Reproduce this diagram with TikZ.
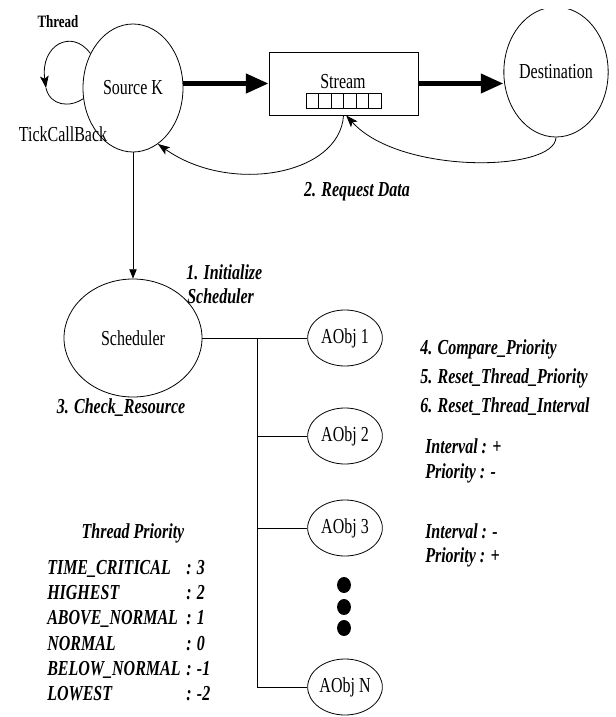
\documentclass[tikz,border=0pt]{standalone}
\usepackage{fontspec}
\setmainfont{Liberation Serif}[FakeStretch=0.75]
\usepackage{tikz}
\newcommand{\labelfont}{\fontsize{16pt}{19pt}\selectfont}
\newcommand{\aobjwidth}{56pt}
\newcommand{\aobjheight}{42pt}
\usetikzlibrary{arrows.meta,calc,shapes.geometric}
\tikzset{
  font=\labelfont,
  oval/.style={draw,shape=ellipse,inner sep=0,line width=0.6pt},
  aobj/.style={oval,minimum width=\aobjwidth,minimum height=\aobjheight},
  cell/.style={draw,shape=rectangle,minimum width=9.4pt,minimum height=11.25pt,inner sep=0,line width=0.6pt},
  note/.style={font=\labelfont\bfseries\itshape,inner sep=0},
  line/.style={draw,line width=0.6pt},
  arrow/.style={line,-{Triangle[length=7pt,width=5.5pt]}},
  back/.style={line,-{Stealth[length=9pt,width=6.5pt,inset=2pt]}},
  flow/.style={draw,line width=3.75pt,-{Triangle[length=17pt,width=14pt]}},
}

\begin{document}
\begin{tikzpicture}[x=0.75pt,y=-0.75pt]
  \useasboundingbox (0,0) rectangle (615,717);
  \node (src) [oval,minimum width=75pt,minimum height=96pt] at (133,88) {Source K};
  \node (stream) [draw,line width=0.6pt,minimum width=111.75pt,minimum height=47.25pt,inner sep=0] at (343.5,83.5) {};
  \node (streamlabel) [inner sep=0,anchor=base] at (343,89) {Stream};
  \foreach \i in {0,...,5}
    \node (cell\i) [cell] at (312.25+12.5*\i,100.5) {};
  \begin{scope}
    \clip (400,10) rectangle (615,200);
    \node (dest) [oval,minimum width=75pt,minimum height=97.5pt] at (556,72) {Destination};
  \end{scope}
  \path [flow] (src.east |- stream.west) -- (stream.west);
  \path [flow] (stream.east) -- (dest.west |- stream.east);

  \node (thread) [inner sep=0,anchor=base,font=\fontsize{13pt}{15pt}\selectfont\bfseries] at (58,28) {Thread};
  \coordinate (looptip) at (46,88);
  \path [back] (src.141) .. controls (72,28) and (40,45) .. (looptip);
  \path [line] (looptip) .. controls (50,106) and (70,108) .. (src.192);
  \node (tick) [inner sep=0,anchor=base] at (63,141.5) {TickCallBack};

  \path [back] (stream.south) .. controls (340,175) and (230,195) .. (src.-66);
  \path [back] (dest.south) .. controls (555,172) and (400,175) .. ([xshift=2pt]stream.south);
  \node (req) [note,anchor=base] at (357,196.5) {2. Request Data};

  \node (sched) [oval,minimum width=103.5pt,minimum height=88.5pt] at (133,338) {Scheduler};
  \path [arrow] (src.south) -- (sched.north);
  \node (init1) [note,anchor=base west] at (186,279.5) {1. Initialize};
  \node (init2) [note,anchor=base west] at (187,303.5) {Scheduler};
  \node (check) [note,anchor=base] at (121,413.5) {3. Check\_Resource};

  \node (aobj1) [aobj] at (345,338) {AObj 1};
  \node (aobj2) [aobj] at (345,436) {AObj 2};
  \node (aobj3) [aobj] at (345,528) {AObj 3};
  \node (aobjN) [aobj] at (345,687) {AObj N};
  \coordinate (bus) at (257,338);
  \path [line] (sched.east) -- (aobj1.west);
  \path [line] (bus) |- (aobjN.west);
  \path [line] (bus |- aobj2.west) -- (aobj2.west);
  \path [line] (bus |- aobj3.west) -- (aobj3.west);
  \foreach \y in {585,607,628}
    \fill (344,\y) ellipse [x radius=5.2pt,y radius=6pt];

  \node (cmp) [note,anchor=base west] at (420,354.5) {4. Compare\_Priority};
  \node (rtp) [note,anchor=base west] at (420,383.5) {5. Reset\_Thread\_Priority};
  \node (rti) [note,anchor=base west] at (420,412.5) {6. Reset\_Thread\_Interval};
  \node (intup) [note,anchor=base west] at (425,453.5) {Interval : +};
  \node (priodown) [note,anchor=base west] at (425,478.5) {Priority : -};
  \node (intdown) [note,anchor=base west] at (425,538.5) {Interval : -};
  \node (prioup) [note,anchor=base west] at (425,562.5) {Priority : +};

  \node (prio) [note,anchor=base] at (133,538.5) {Thread Priority};
  \foreach \name/\val [count=\i] in {TIME\_CRITICAL/3,HIGHEST/2,ABOVE\_NORMAL/1,NORMAL/0,BELOW\_NORMAL/-1,LOWEST/-2} {
    \node (level\i) [note,anchor=base west] at (47,549.3+25.2*\i) {\name};
    \node (value\i) [note,anchor=base west] at (186,549.3+25.2*\i) {: \val};
  }
\end{tikzpicture}
\end{document}
